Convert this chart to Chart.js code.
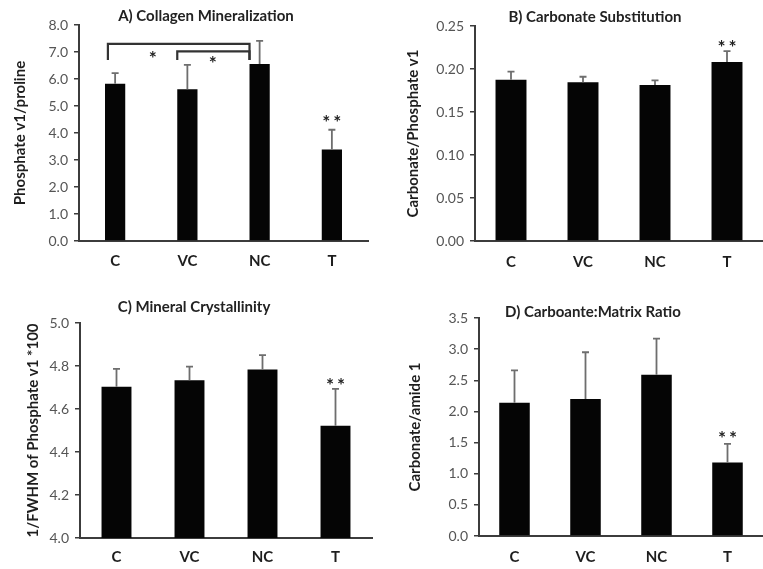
<!DOCTYPE html>
<html><head><meta charset="utf-8">
<script src="https://cdn.jsdelivr.net/npm/chart.js@4/dist/chart.umd.min.js"></script>
<style>
html,body{margin:0;padding:0;background:#fff;width:763px;height:569px;overflow:hidden}
.p{position:absolute}
canvas{display:block}
</style></head><body>
<div class="p" style="left:0;top:0"><canvas id="cA" width="380" height="280"></canvas></div>
<div class="p" style="left:380px;top:0"><canvas id="cB" width="383" height="280"></canvas></div>
<div class="p" style="left:0;top:280px"><canvas id="cC" width="380" height="289"></canvas></div>
<div class="p" style="left:380px;top:280px"><canvas id="cD" width="383" height="289"></canvas></div>
<script>
// ---- data ----
const categories = ['C', 'VC', 'NC', 'T'];

const mineralization = [5.82, 5.62, 6.56, 3.39];
const mineralizationSD = [0.40, 0.90, 0.85, 0.73];
const mineralizationTicks = { min: 0, max: 8, step: 1, decimals: 1 };

const carbonateSub = [0.1875, 0.1845, 0.1814, 0.2082];
const carbonateSubSD = [0.0095, 0.0065, 0.0053, 0.0125];
const carbonateSubTicks = { min: 0, max: 0.25, step: 0.05, decimals: 2 };

const crystallinity = [4.704, 4.734, 4.784, 4.522];
const crystallinitySD = [0.083, 0.063, 0.067, 0.172];
const crystallinityTicks = { min: 4.0, max: 5.0, step: 0.2, decimals: 1 };

const matrixRatio = [2.14, 2.20, 2.59, 1.18];
const matrixRatioSD = [0.52, 0.75, 0.58, 0.30];
const matrixRatioTicks = { min: 0, max: 3.5, step: 0.5, decimals: 1 };

// significance annotations (data coordinates)
const bracketsA = [
  { from: -0.10, to: 1.86, y: 7.30, leg: 6.70 },
  { from: 0.86, to: 1.86, y: 7.02, leg: 6.70 }
];
const starsA = [
  { x: 0.52, y: 6.93, n: 1 },
  { x: 1.35, y: 6.74, n: 1 },
  { x: 3, y: 4.56, n: 2 }
];
const starsB = [{ x: 3, y: 0.2299, n: 2 }];
const starsC = [{ x: 3, y: 4.732, n: 2 }];
const starsD = [{ x: 3, y: 1.64, n: 2 }];

// ---- drawing ----
const FONT = 'Lato, "Open Sans", sans-serif';

const annotate = {
  id: 'annotate',
  afterDatasetsDraw(chart, args, o) {
    const ctx = chart.ctx, xs = chart.scales.x, ys = chart.scales.y;
    const meta = chart.getDatasetMeta(0);
    const ds = chart.data.datasets[0];
    ctx.save();
    // error bars (upper only)
    ctx.strokeStyle = '#6e6e6e';
    ctx.lineWidth = 1.8;
    ds.data.forEach((v, i) => {
      const el = meta.data[i];
      const top = ys.getPixelForValue(v + ds.sd[i]);
      ctx.beginPath();
      ctx.moveTo(el.x, el.y);
      ctx.lineTo(el.x, top);
      ctx.moveTo(el.x - 3.5, top);
      ctx.lineTo(el.x + 3.5, top);
      ctx.stroke();
    });
    // brackets
    ctx.strokeStyle = '#333';
    ctx.lineWidth = 2.2;
    (o.brackets || []).forEach(b => {
      const x1 = xs.getPixelForValue(b.from), x2 = xs.getPixelForValue(b.to);
      const y = ys.getPixelForValue(b.y), yl = ys.getPixelForValue(b.leg);
      ctx.beginPath();
      ctx.moveTo(x1, yl); ctx.lineTo(x1, y); ctx.lineTo(x2, y); ctx.lineTo(x2, yl);
      ctx.stroke();
    });
    // stars
    ctx.fillStyle = '#222';
    ctx.font = 'bold 19px ' + FONT;
    ctx.textAlign = 'center';
    ctx.textBaseline = 'alphabetic';
    (o.stars || []).forEach(s => {
      const cx = xs.getPixelForValue(s.x), cy = ys.getPixelForValue(s.y);
      for (let k = 0; k < s.n; k++) {
        const dx = s.n === 1 ? 0 : (k === 0 ? -5.5 : 5.5);
        ctx.fillText('*', cx + dx, cy + 11);
      }
    });
    // chart title
    ctx.fillStyle = '#222';
    ctx.font = 'bold 15px ' + FONT;
    ctx.textBaseline = 'middle';
    ctx.fillText(o.title, o.titleX, o.titleY);
    ctx.restore();
  }
};

function makeChart(id, values, sd, t, cfg) {
  return new Chart(document.getElementById(id), {
    type: 'bar',
    data: {
      labels: categories,
      datasets: [{
        data: values,
        sd: sd,
        backgroundColor: '#050505',
        borderWidth: 0,
        barPercentage: cfg.barPct,
        categoryPercentage: 1
      }]
    },
    options: {
      responsive: false,
      animation: false,
      devicePixelRatio: 1,
      layout: { padding: cfg.padding },
      plugins: {
        legend: { display: false },
        tooltip: { enabled: false },
        annotate: { title: cfg.title, titleX: cfg.titleX, titleY: cfg.titleY, brackets: cfg.brackets, stars: cfg.stars }
      },
      scales: {
        x: {
          grid: { display: false, drawTicks: false },
          border: { display: true, color: '#3c3c3c', width: 2 },
          ticks: { color: '#1e1e1e', font: { family: FONT, size: 15, weight: 'bold' }, padding: cfg.xPad },
          afterFit: s => { s.height = cfg.xHeight; }
        },
        y: {
          min: t.min, max: t.max,
          grid: { drawOnChartArea: false, drawTicks: true, tickLength: 5, color: '#3c3c3c', lineWidth: 1.5 },
          border: { display: true, color: '#3c3c3c', width: 2 },
          ticks: {
            stepSize: t.step,
            color: '#555',
            font: { family: FONT, size: 14 },
            padding: 6,
            callback: v => Number(v).toFixed(t.decimals)
          },
          title: {
            display: true,
            text: cfg.yTitle,
            color: '#1e1e1e',
            font: { family: FONT, size: 15, weight: 'bold' },
            padding: { top: cfg.yTitlePad, bottom: 0 }
          },
          afterFit: s => { s.width = cfg.yWidth; }
        }
      }
    },
    plugins: [annotate]
  });
}

makeChart('cA', mineralization, mineralizationSD, mineralizationTicks, {
  title: 'A) Collagen Mineralization', titleX: 206, titleY: 16,
  yTitle: 'Phosphate v1/proline', yTitlePad: 11, yWidth: 79, xHeight: 39, xPad: 11,
  padding: { top: 25, right: 12, bottom: 0, left: 0 }, barPct: 0.28,
  brackets: bracketsA, stars: starsA
});
makeChart('cB', carbonateSub, carbonateSubSD, carbonateSubTicks, {
  title: 'B) Carbonate Substitution', titleX: 215, titleY: 17,
  yTitle: 'Carbonate/Phosphate v1', yTitlePad: 24, yWidth: 95, xHeight: 39, xPad: 12,
  padding: { top: 26, right: 0, bottom: 0, left: 0 }, barPct: 0.43,
  brackets: [], stars: starsB
});
makeChart('cC', crystallinity, crystallinitySD, crystallinityTicks, {
  title: 'C) Mineral Crystallinity', titleX: 194, titleY: 27,
  yTitle: '1/FWHM of Phosphate v1 *100', yTitlePad: 24, yWidth: 80, xHeight: 31, xPad: 10,
  padding: { top: 43, right: 8, bottom: 0, left: 0 }, barPct: 0.41,
  brackets: [], stars: starsC
});
makeChart('cD', matrixRatio, matrixRatioSD, matrixRatioTicks, {
  title: 'D) Carboante:Matrix Ratio', titleX: 213, titleY: 32,
  yTitle: 'Carbonate/amide 1', yTitlePad: 26, yWidth: 99, xHeight: 33, xPad: 12,
  padding: { top: 38, right: 0, bottom: 0, left: 0 }, barPct: 0.43,
  brackets: [], stars: starsD
});
</script>
</body></html>
